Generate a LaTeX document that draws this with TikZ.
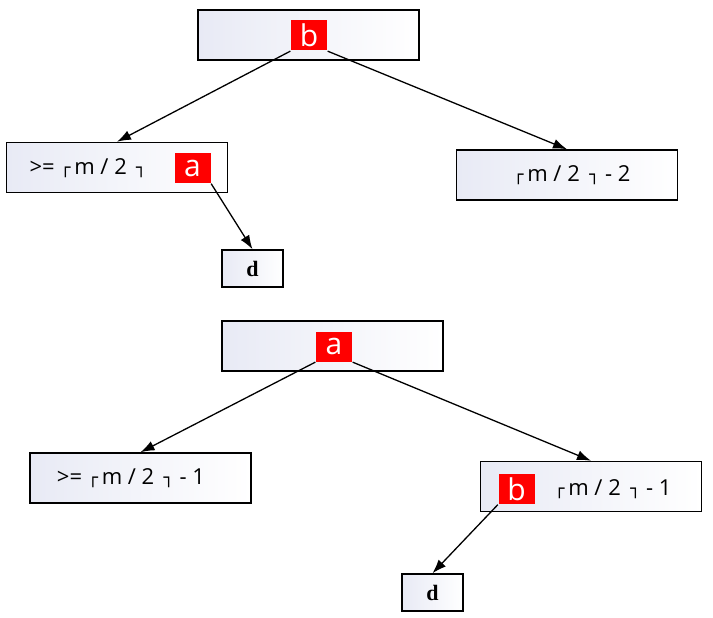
\documentclass[tikz,border=0pt]{standalone}
\usepackage{fontspec}
\setmainfont{Open Sans}
\newfontfamily\boxfont{DejaVu Sans}
\newfontfamily\leaffont{Liberation Serif}
\usetikzlibrary{arrows.meta}
\definecolor{boxtint}{HTML}{E8EAF5}
\definecolor{keyred}{HTML}{FF0000}
\newcommand{\lc}{\raisebox{1.5pt}{\boxfont\fontsize{17}{17}\selectfont ┌}\,}
\newcommand{\rc}{\,\raisebox{1.5pt}{\boxfont\fontsize{17}{17}\selectfont ┐}}
\tikzset{every path/.style={line width=1.3pt},
  treebox/.style={draw, line width=1.5pt, left color=boxtint, right color=white, minimum width=221pt, minimum height=50pt, inner sep=0pt},
  leafbox/.style={draw, line width=1.5pt, left color=boxtint, right color=white, minimum width=61pt, minimum height=37pt, inner sep=0pt, font=\leaffont\bfseries\fontsize{22}{22}\selectfont},
  keybox/.style={fill=keyred, text=white, minimum width=36pt, minimum height=30pt, inner sep=0pt, font=\fontsize{30}{30}\selectfont},
  keytext/.style={inner sep=0pt, font=\fontsize{22}{22}\selectfont},
  link/.style={-{Latex[length=14pt,width=10pt]}}}

\begin{document}
\begin{tikzpicture}[x=1pt,y=-1pt]
   \useasboundingbox (0,0) rectangle (713,618);
   % first tree
   \node[treebox] (root1)  at (308.5, 35)  {};
   \node[keybox]  (kb1)    at (309, 35.5)  {b};
   \node[treebox] (left1)  at (117, 167.5) {};
   \node[keytext] (lt1)    at (88, 168)    {>= \lc m / 2 \rc};
   \node[keybox]  (ka1)    at (192.5, 168) {a};
   \node[treebox] (right1) at (567, 175)   {};
   \node[keytext] (rt1)    at (572, 175)   {\lc m / 2 \rc{} - 2};
   \node[leafbox] (d1)     at (252.5, 268.5) {d};
   \draw[link] (kb1.south west) -- (left1.north);
   \draw[link] (kb1.south east) -- (right1.north);
   \draw[link] (ka1.south east) -- (d1.north);
   % second tree
   \node[treebox] (root2)  at (332.5, 346) {};
   \node[keybox]  (ka2)    at (334, 346.5) {a};
   \node[treebox] (left2)  at (140.5, 478) {};
   \node[keytext] (lt2)    at (131, 478)   {>= \lc m / 2 \rc{} - 1};
   \node[treebox] (right2) at (591, 486.5) {};
   \node[keybox]  (kb2)    at (516.5, 489) {b};
   \node[keytext] (rt2)    at (613, 489)   {\lc m / 2 \rc{} - 1};
   \node[leafbox] (d2)     at (432.5, 592.5) {d};
   \draw[link] (ka2.south west) -- (left2.north);
   \draw[link] (ka2.south east) -- (right2.north);
   \draw[link] (kb2.south west) -- (d2.north);
\end{tikzpicture}
\end{document}
